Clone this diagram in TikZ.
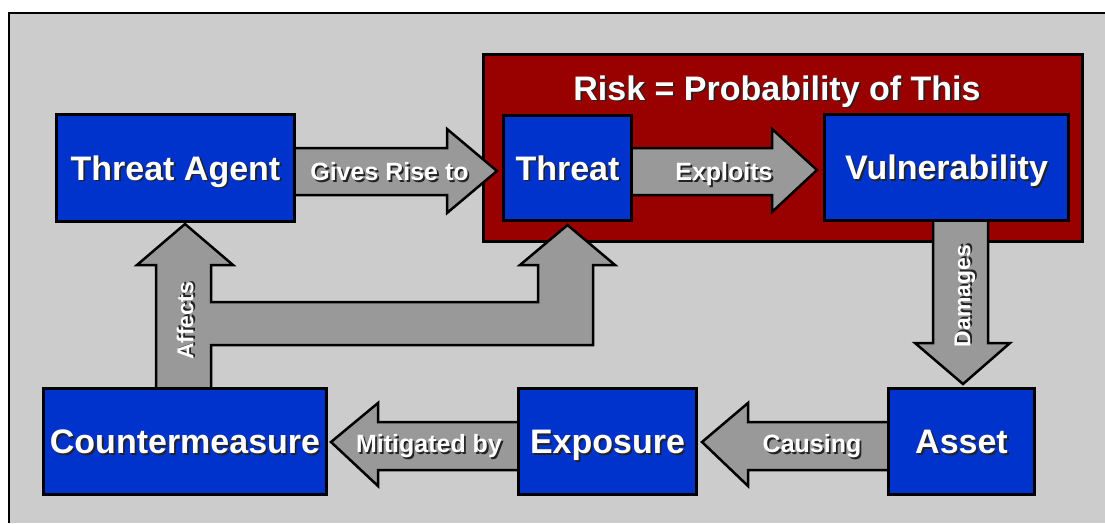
\documentclass[tikz,border=0pt]{standalone}
\usepackage{fontspec}
\setmainfont{Liberation Sans}
\usetikzlibrary{calc}
\definecolor{bggray}{RGB}{204,204,204}
\definecolor{boxblue}{RGB}{0,51,204}
\definecolor{riskred}{RGB}{153,0,0}
\definecolor{arrowgray}{RGB}{153,153,153}
\definecolor{shadowc}{RGB}{35,35,35}
\newcommand{\shtxt}[1]{\makebox[0pt][l]{\hspace{1.8pt}\raisebox{-1.8pt}{\textcolor{shadowc}{#1}}}\textcolor{white}{#1}}
\pgfdeclarelayer{back}
\pgfdeclarelayer{mid}
\pgfsetlayers{back,mid,main}
\tikzset{
  blockbox/.style={draw=black, line width=3pt, fill=boxblue, inner sep=0pt,
    font=\fontsize{34}{40}\selectfont\bfseries, text=white,
    text height=24.3pt, text depth=0pt},
  riskbox/.style={draw=black, line width=3pt, fill=riskred, inner sep=0pt},
  titletext/.style={font=\fontsize{34}{40}\selectfont\bfseries, inner sep=0pt,
    text height=24.3pt, text depth=0pt},
  flowarrow/.style={draw=black, line width=2.5pt, fill=arrowgray, line join=miter},
  arrowlabel/.style={font=\fontsize{25}{30}\selectfont\bfseries, inner sep=0pt,
    text height=17.9pt, text depth=0pt},
  vlabel/.style={font=\fontsize{23}{28}\selectfont\bfseries, inner sep=0pt,
    text height=16.5pt, text depth=0pt, rotate=90}
}
\begin{document}
\begin{tikzpicture}[x=1pt,y=-1pt]
\useasboundingbox (0,0) rectangle (1105,523);
\begin{pgfonlayer}{back}
  \fill[white] (0,0) rectangle (1105,523);
  \fill[bggray] (9,13) rectangle (1105,523);
  \draw[line width=2.5pt] (9,523) -- (9,13) -- (1105,13);
  \node[riskbox, minimum width=599pt, minimum height=187pt] (risk) at (783,148) {};
\end{pgfonlayer}

\node[titletext] (risktitle) at (777,88) {\shtxt{Risk = Probability of This}};

\node[blockbox, minimum width=238pt, minimum height=107pt] (ta) at (175.5,168) {\shtxt{Threat Agent}};
\node[blockbox, minimum width=128pt, minimum height=105pt] (thr) at (567.5,168) {\shtxt{Threat}};
\node[blockbox, minimum width=244pt, minimum height=106pt] (vul) at (946.5,167.5) {\shtxt{Vulnerability}};
\node[blockbox, minimum width=146pt, minimum height=106pt] (ast) at (961.5,441.5) {\shtxt{Asset}};
\node[blockbox, minimum width=178pt, minimum height=106pt] (exp) at (607.5,441.5) {\shtxt{Exposure}};
\node[blockbox, minimum width=283pt, minimum height=106pt] (cm) at (185,441.5) {\shtxt{Countermeasure}};

\begin{pgfonlayer}{mid}
  % Gives Rise to
  \draw[flowarrow] ($(ta.east)+(-4,-20)$) -- ($(ta.east)+(151,-20)$) -- ($(ta.east)+(151,-39)$)
    -- ($(thr.west)+(-5,3)$) -- ($(ta.east)+(151,45)$) -- ($(ta.east)+(151,27)$)
    -- ($(ta.east)+(-4,27)$) -- cycle;
  % Exploits
  \draw[flowarrow] ($(thr.east)+(-4,-20)$) -- ($(thr.east)+(139,-20)$) -- ($(thr.east)+(139,-39)$)
    -- ($(vul.west)+(-6,2.5)$) -- ($(thr.east)+(139,44)$) -- ($(thr.east)+(139,27)$)
    -- ($(thr.east)+(-4,27)$) -- cycle;
  % Damages
  \draw[flowarrow] ($(ast.north)+(-28.5,-168)$) -- ($(ast.north)+(-28.5,-44)$) -- ($(ast.north)+(-46.5,-44)$)
    -- ($(ast.north)+(1.5,-3)$) -- ($(ast.north)+(48.5,-44)$) -- ($(ast.north)+(26.5,-44)$)
    -- ($(ast.north)+(26.5,-168)$) -- cycle;
  % Causing
  \draw[flowarrow] ($(ast.west)+(4,-19.5)$) -- ($(exp.east)+(50,-19.5)$) -- ($(exp.east)+(50,-38.5)$)
    -- ($(exp.east)+(4,0.5)$) -- ($(exp.east)+(50,44.5)$) -- ($(exp.east)+(50,28.5)$)
    -- ($(ast.west)+(4,28.5)$) -- cycle;
  % Mitigated by
  \draw[flowarrow] ($(exp.west)+(4,-19.5)$) -- ($(cm.east)+(50,-19.5)$) -- ($(cm.east)+(50,-38.5)$)
    -- ($(cm.east)+(3,0.5)$) -- ($(cm.east)+(50,44.5)$) -- ($(cm.east)+(50,28.5)$)
    -- ($(exp.west)+(4,28.5)$) -- cycle;
  % Affects (branched)
  \draw[flowarrow] ($(cm.north)+(-29,4)$) -- ($(cm.north)+(-29,-122)$) -- ($(cm.north)+(-48,-122)$)
    -- ($(cm.north)+(0,-163)$) -- ($(cm.north)+(48,-122)$) -- ($(cm.north)+(26,-122)$)
    -- ($(cm.north)+(26,-85)$) -- ($(thr.south)+(-29.5,80)$) -- ($(thr.south)+(-29.5,43)$)
    -- ($(thr.south)+(-47.5,43)$) -- ($(thr.south)+(0,3)$) -- ($(thr.south)+(47.5,43)$)
    -- ($(thr.south)+(25.5,43)$) -- ($(thr.south)+(25.5,123)$) -- ($(cm.north)+(26,-42)$)
    -- ($(cm.north)+(26,4)$) -- cycle;
\end{pgfonlayer}

\node[arrowlabel] (lgives) at (389.5,171.5) {\shtxt{Gives Rise to}};
\node[arrowlabel] (lexploits) at (724,172) {\shtxt{Exploits}};
\node[vlabel] (ldamages) at (962,296) {\shtxt{Damages}};
\node[vlabel] (laffects) at (185,321) {\shtxt{Affects}};
\node[arrowlabel] (lcausing) at (812,444) {\shtxt{Causing}};
\node[arrowlabel] (lmitigated) at (429,444) {\shtxt{Mitigated by}};
\end{tikzpicture}
\end{document}
